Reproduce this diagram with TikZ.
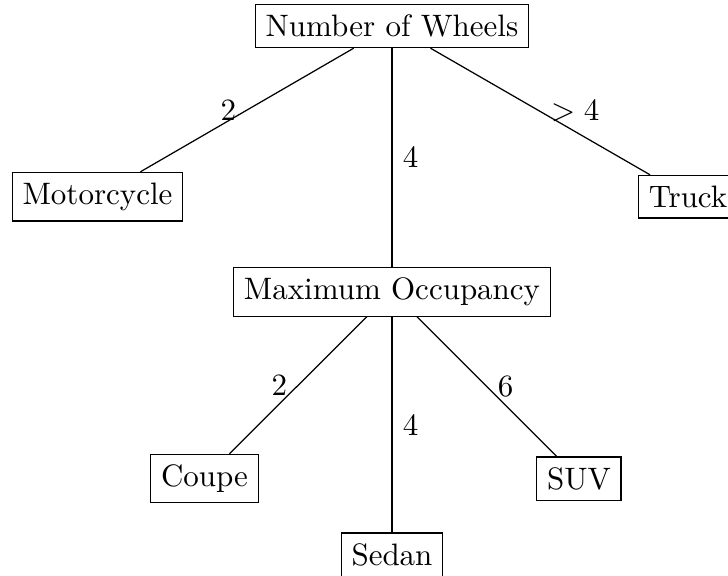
\documentclass[tikz,border=0pt]{standalone}
\begin{document}
\begin{tikzpicture}[x=0.3226pt,y=-0.3226pt,
  box/.style={draw,line width=0.4pt},
  lbl/.style={midway}]
\useasboundingbox (0,0) rectangle (728,576);
\node[box] (now) at (392,26) {Number of Wheels};
\node[box] (moto) at (97.5,196.7) {Motorcycle};
\node[box] (truck) at (688,196.7) {Truck};
\node[box] (maxo) at (392,291.7) {Maximum Occupancy};
\node[box] (coupe) at (204.5,478.6) {Coupe};
\node[box] (suv) at (578.9,478.6) {SUV};
\node[box] (sedan) at (392,554.7) {Sedan};
\draw (now) -- node[lbl,left]{2} (moto);
\draw (now) -- node[lbl,right]{4} (maxo);
\draw (now) -- node[lbl,right]{$>4$} (truck);
\draw (maxo) -- node[lbl,left]{2} (coupe);
\draw (maxo) -- node[lbl,right]{4} (sedan);
\draw (maxo) -- node[lbl,right]{6} (suv);
\end{tikzpicture}
\end{document}
